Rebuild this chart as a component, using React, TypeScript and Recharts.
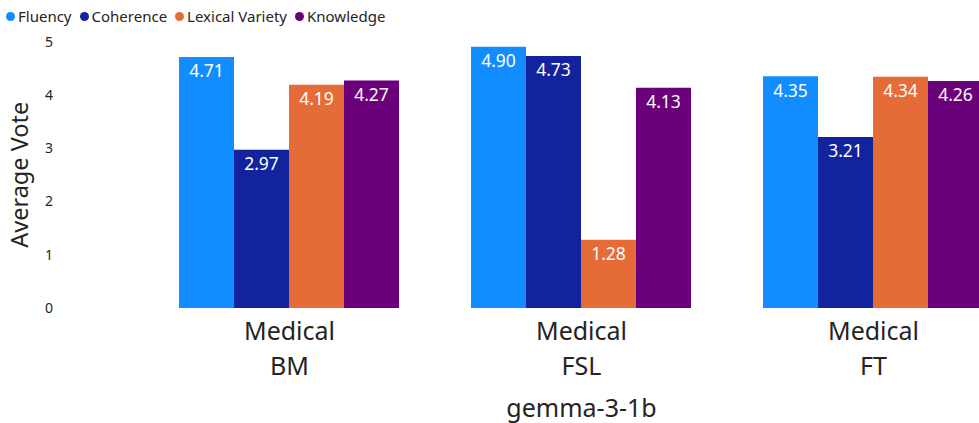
import { BarChart, Bar, XAxis, YAxis, LabelList } from 'recharts'

const domain = 'Medical'
const categories = ['BM', 'FSL', 'FT']
const fluency = [4.71, 4.9, 4.35]
const coherence = [2.97, 4.73, 3.21]
const lexicalVariety = [4.19, 1.28, 4.34]
const knowledge = [4.27, 4.13, 4.26]
const yTicks = [0, 1, 2, 3, 4, 5]
const modelName = 'gemma-3-1b'

const FONT = '"Segoe UI", "Noto Sans", sans-serif'

const series = [
  { key: 'fluency', name: 'Fluency', color: '#118DFF' },
  { key: 'coherence', name: 'Coherence', color: '#12239E' },
  { key: 'lexical', name: 'Lexical Variety', color: '#E66C37' },
  { key: 'knowledge', name: 'Knowledge', color: '#6B007B' },
]

const data = categories.map((c, i) => ({
  name: c,
  fluency: fluency[i],
  coherence: coherence[i],
  lexical: lexicalVariety[i],
  knowledge: knowledge[i],
}))

function CategoryTick({ x, y, payload }: any) {
  return (
    <g>
      <text x={x} y={y + 24} textAnchor="middle" fontSize={25} fill="#252423" fontFamily={FONT}>
        {domain}
      </text>
      <text x={x} y={y + 59} textAnchor="middle" fontSize={25} fill="#252423" fontFamily={FONT}>
        {payload.value}
      </text>
    </g>
  )
}

function ValueTick({ y, payload }: any) {
  return (
    <text x={49} y={y} dy="0.36em" textAnchor="middle" fontSize={14} fill="#252423" fontFamily={FONT}>
      {payload.value}
    </text>
  )
}

function VoteLabel({ viewBox }: any) {
  const cy = viewBox.y + viewBox.height / 2
  return (
    <text
      x={19}
      y={cy}
      transform={`rotate(-90, 19, ${cy})`}
      textAnchor="middle"
      dominantBaseline="central"
      fontSize={23.5}
      fill="#252423"
      fontFamily={FONT}
    >
      Average Vote
    </text>
  )
}

function LegendRow() {
  return (
    <div
      style={{
        position: 'absolute',
        top: 6,
        left: 6,
        display: 'flex',
        alignItems: 'center',
        fontFamily: FONT,
        fontSize: 15,
        color: '#252423',
        zIndex: 1,
      }}
    >
      {series.map(s => (
        <span key={s.key} style={{ display: 'flex', alignItems: 'center', marginRight: 8 }}>
          <span
            style={{
              width: 9,
              height: 9,
              borderRadius: '50%',
              background: s.color,
              display: 'inline-block',
              marginRight: 3,
            }}
          />
          {s.name}
        </span>
      ))}
    </div>
  )
}

export default function App() {
  return (
    <div style={{ position: 'absolute', left: 0, top: 0, width: 979, height: 423, overflow: 'hidden', background: '#fff' }}>
      <LegendRow />
      <BarChart
        width={1030}
        height={423}
        data={data}
        margin={{ top: 41.5, right: 10.5, bottom: 0, left: 0 }}
        barCategoryGap={35.5}
        barGap={0}
      >
        <XAxis
          dataKey="name"
          axisLine={false}
          tickLine={false}
          height={115}
          tick={<CategoryTick />}
          interval={0}
          label={{
            value: modelName,
            position: 'insideBottom',
            offset: 6,
            fontSize: 25,
            fill: '#252423',
            fontFamily: FONT,
          }}
        />
        <YAxis
          width={143.5}
          domain={[0, 5]}
          ticks={yTicks}
          axisLine={false}
          tickLine={false}
          tick={<ValueTick />}
          label={<VoteLabel />}
        />
        {series.map(s => (
          <Bar key={s.key} dataKey={s.key} name={s.name} fill={s.color} isAnimationActive={false}>
            <LabelList
              dataKey={s.key}
              position="insideTop"
              offset={8}
              fill="#ffffff"
              fontSize={17.5}
              fontFamily={FONT}
              formatter={(v: any) => (v as number).toFixed(2)}
            />
          </Bar>
        ))}
      </BarChart>
    </div>
  )
}
